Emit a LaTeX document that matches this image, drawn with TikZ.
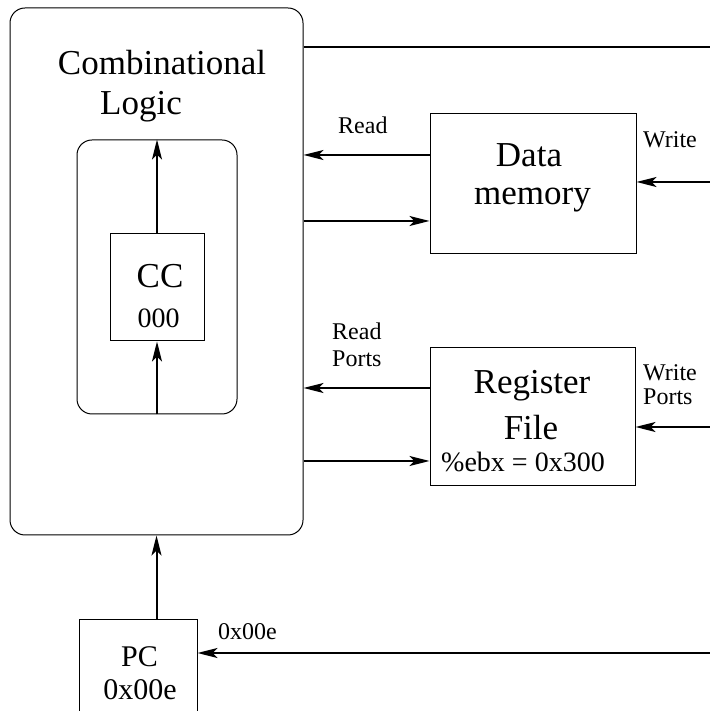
\documentclass[tikz,border=0pt]{standalone}
\usepackage{fontspec}
\setmainfont{Liberation Serif}
\usetikzlibrary{arrows.meta}
\begin{document}
\begin{tikzpicture}[x=1pt,y=1pt,
  box/.style={draw, line width=1pt, inner sep=0pt},
  rbox/.style={box, rounded corners=15pt},
  arr/.style={line width=2pt, -{Stealth[length=20pt,width=10pt,inset=5pt]}},
  wire/.style={line width=2pt},
  txt/.style={inner sep=0pt, anchor=base},
  big/.style={txt, font=\fontsize{35}{35}\selectfont},
  mid/.style={txt, font=\fontsize{30}{30}\selectfont},
  small/.style={txt, font=\fontsize{28}{28}\selectfont},
  lab/.style={txt, font=\fontsize{24}{24}\selectfont}
]
\useasboundingbox (0,0) rectangle (709,711);

% boxes
\node[rbox, minimum width=293pt, minimum height=527pt] (outer) at (156.5,439.5) {};
\node[rbox, minimum width=160pt, minimum height=274pt] (inner) at (157,434) {};
\node[box, minimum width=94pt, minimum height=107pt] (cc) at (157,423.5) {};
\node[box, minimum width=206pt, minimum height=140pt] (dm) at (533,527) {};
\node[box, minimum width=205pt, minimum height=138pt] (rf) at (532.5,294) {};
\node[box, minimum width=118pt, minimum height=100pt] (pc) at (138,41) {};

% texts
\node[big] (t1) at (162,636) {Combinational};
\node[big] (t2) at (141,596) {Logic};
\node[big] (t3) at (160,423) {CC};
\node[small] (t4) at (158.5,383) {000};
\node[big] (t5) at (529,544) {Data};
\node[big] (t6) at (532.5,506) {memory};
\node[big] (t7) at (532,317) {Register};
\node[big] (t8) at (531,271) {File};
\node[small] (t9) at (523,239) {\%ebx = 0x300};
\node[mid] (t10) at (139.5,44) {PC};
\node[mid] (t11) at (140,11) {0x00e};

% labels
\node[lab, anchor=base west] (l1) at (338,577) {Read};
\node[lab, anchor=base west] (l2) at (643,563) {Write};
\node[lab, anchor=base west] (l3) at (332,371) {Read};
\node[lab, anchor=base west] (l4) at (332,344) {Ports};
\node[lab, anchor=base west] (l5) at (643,330) {Write};
\node[lab, anchor=base west] (l6) at (643,306) {Ports};
\node[lab, anchor=base west] (l7) at (218,71) {0x00e};

% free ends at right edge
\coordinate (eTop) at (712,664);
\coordinate (eDM) at (712,529);
\coordinate (eRF) at (712,284);
\coordinate (ePC) at (712,58);

% connectors
\draw[wire] (eTop -| outer.east) -- (eTop);
\draw[arr] ([yshift=29pt]dm.west) -- ([yshift=29pt]dm.west -| outer.east);
\draw[arr] ([yshift=-37pt]dm.west -| outer.east) -- ([yshift=-37pt]dm.west);
\draw[arr] (eDM) -- (eDM -| dm.east);
\draw[arr] ([yshift=29pt]rf.west) -- ([yshift=29pt]rf.west -| outer.east);
\draw[arr] ([yshift=-44pt]rf.west -| outer.east) -- ([yshift=-44pt]rf.west);
\draw[arr] (eRF) -- (eRF -| rf.east);
\draw[arr] (ePC) -- (ePC -| pc.east);
\draw[arr] (pc.north -| outer.south) -- (outer.south);
\draw[arr] (cc.north) -- (inner.north);
\draw[arr] (inner.south) -- (cc.south);
\end{tikzpicture}
\end{document}
